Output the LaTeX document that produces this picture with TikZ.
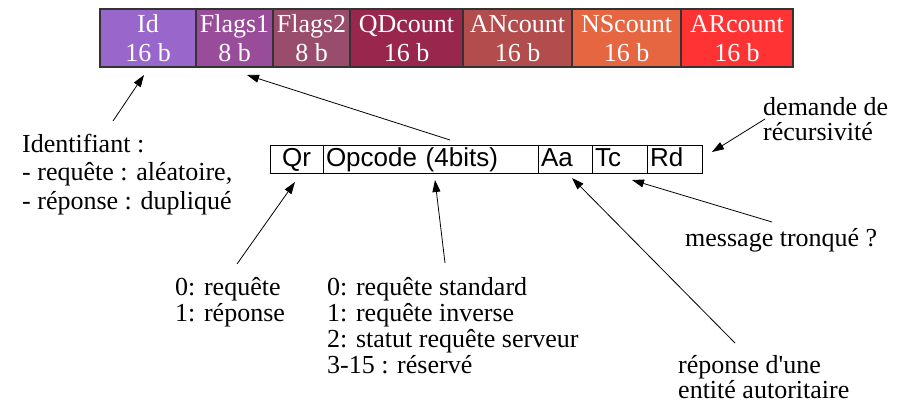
\documentclass[tikz,border=0pt]{standalone}
\usepackage{fontspec}
\setmainfont{Liberation Serif}
\newfontfamily\flagfont{Liberation Sans}
\usetikzlibrary{arrows.meta,positioning}
\definecolor{idcol}{HTML}{9966CC}
\definecolor{flagacol}{HTML}{994C99}
\definecolor{flagbcol}{HTML}{994C6B}
\definecolor{qdcol}{HTML}{99264C}
\definecolor{ancol}{HTML}{B34C4C}
\definecolor{nscol}{HTML}{E66642}
\definecolor{arcol}{HTML}{FF3333}
\definecolor{rim}{HTML}{333333}

\begin{document}
\begin{tikzpicture}[x=1pt,y=-1pt,>={Triangle[length=12pt,width=8pt]},
 node distance=0pt,
 field/.style={draw=rim,line width=1.2pt,fill=#1,text=white,inner sep=0pt,
 outer sep=0pt,minimum height=58pt,text height=53pt,text depth=5pt,
 align=center,font=\fontsize{26}{29}\selectfont},
 cell/.style={draw,line width=1pt,inner ysep=0pt,inner xsep=3pt,outer sep=0pt,
 minimum height=28pt,text height=19pt,text depth=5pt,align=left,
 font=\flagfont\fontsize{26}{26}\selectfont},
 note/.style={anchor=base west,align=left,inner sep=0pt,
 font=\fontsize{26}{26}\selectfont},
 every edge/.style={draw,->,line width=0.8pt}]
\useasboundingbox (0,0) rectangle (904,404);
% header fields
\node[field=idcol,minimum width=96pt,anchor=north west] (id) at (100,9) {Id\\16 b};
\node[field=flagacol,minimum width=77pt,right=of id] (fla) {Flags1\\8 b};
\node[field=flagbcol,minimum width=77pt,right=of fla] (flb) {Flags2\\8 b};
\node[field=qdcol,minimum width=113pt,right=of flb] (qd) {QDcount\\16 b};
\node[field=ancol,minimum width=109pt,right=of qd] (an) {ANcount\\16 b};
\node[field=nscol,minimum width=109pt,right=of an] (ns) {NScount\\16 b};
\node[field=arcol,minimum width=112pt,right=of ns] (ar) {ARcount\\16 b};
% detail of Flags1
\node[cell,text width=47pt,align=center,anchor=north west] (qr) at (270,145) {Qr};
\node[cell,text width=209pt,right=of qr] (op) {Opcode (4bits)};
\node[cell,text width=48pt,right=of op] (aa) {Aa};
\node[cell,text width=49pt,right=of aa] (tc) {Tc};
\node[cell,text width=49pt,right=of tc] (rd) {Rd};
% notes (base = last line)
\node[note,font=\fontsize{26}{28.5}\selectfont] (ident) at (22,209)
 {Identifiant :\\- requête : aléatoire,\\- réponse : dupliqué};
\node[note,font=\fontsize{26}{25}\selectfont] (recur) at (763,140)
 {demande de\\récursivité};
\node[note] (tronc) at (685,246) {message tronqué ?};
\node[note] (qrtxt) at (175,321) {0: requête\\1: réponse};
\node[note] (optxt) at (327,373)
 {0: requête standard\\1: requête inverse\\2: statut requête serveur\\3-15 : réservé};
\node[note,font=\fontsize{26}{25}\selectfont] (aatxt) at (678,398)
 {réponse d\textquotesingle une\\entité autoritaire};
% pointers
\path ([shift={(91,-88)}]ident.base west) edge ([shift={(-4,8)}]id.south)
 ([shift={(19.5,-5)}]op.north) edge ([shift={(12.5,8)}]fla.south)
 ([shift={(62,-57)}]qrtxt.base west) edge ([shift={(-1.5,9)}]qr.south)
 ([shift={(118,-110)}]optxt.base west) edge ([shift={(4.5,7)}]op.south)
 ([shift={(57,-55)}]aatxt.base west) edge ([shift={(7,5)}]aa.south)
 ([shift={(87,-24)}]tronc.base west) edge ([shift={(12.5,7)}]tc.south)
 ([shift={(2,-21)}]recur.base west) edge ([shift={(10,-7)}]rd.east);
\end{tikzpicture}
\end{document}
